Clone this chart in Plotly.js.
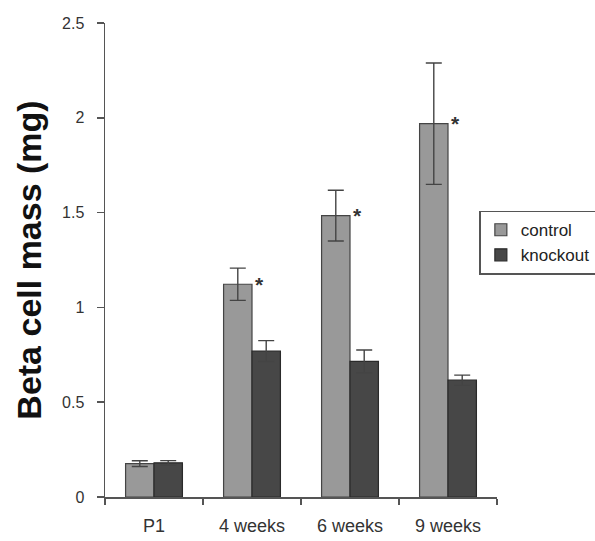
<!DOCTYPE html>
<html>
<head>
<meta charset="utf-8">
<script src="https://cdn.plot.ly/plotly-3.0.1.min.js"></script>
<style>html,body{margin:0;padding:0;background:#fff;}#chart{width:595px;height:541px;}</style>
</head>
<body>
<div id="chart"></div>
<script>
const categories = ["P1", "4 weeks", "6 weeks", "9 weeks"];
const controlValues = [0.176, 1.122, 1.484, 1.969];
const controlErrors = [0.015, 0.085, 0.134, 0.32];
const knockoutValues = [0.18, 0.77, 0.715, 0.616];
const knockoutErrors = [0.012, 0.055, 0.06, 0.027];
const significant = [false, true, true, true];
const seriesNames = ["control", "knockout"];
const yTicks = [0, 0.5, 1, 1.5, 2, 2.5];
const yTickLabels = ["0", "0.5", "1", "1.5", "2", "2.5"];

const errStyle = {type: "data", visible: true, color: "#444", thickness: 1.4, width: 8};

const traces = [
  {type: "bar", name: seriesNames[0], x: categories, y: controlValues,
   error_y: Object.assign({array: controlErrors}, errStyle),
   marker: {color: "#999999", line: {color: "#444", width: 1.2}}},
  {type: "bar", name: seriesNames[1], x: categories, y: knockoutValues,
   error_y: Object.assign({array: knockoutErrors}, errStyle),
   marker: {color: "#474747", line: {color: "#2a2a2a", width: 1.2}}}
];

const annotations = [];
categories.forEach((c, i) => {
  if (significant[i]) {
    annotations.push({x: c, y: controlValues[i], xref: "x", yref: "y", text: "<b>*</b>",
      showarrow: false, xshift: 7, yshift: 0, xanchor: "center", yanchor: "middle",
      font: {family: "Arial, Liberation Sans", size: 21, color: "#333"}});
  }
});

const layout = {
  width: 595, height: 541,
  margin: {l: 105, r: 98, t: 22.5, b: 44, autoexpand: false},
  paper_bgcolor: "#fff", plot_bgcolor: "#fff",
  barmode: "group", bargap: 0.42, bargroupgap: 0,
  font: {family: "Arial, Liberation Sans, sans-serif", size: 16, color: "#333"},
  xaxis: {type: "category", showline: true, linecolor: "#555", linewidth: 1.5,
    ticks: "outside", tickson: "boundaries", ticklen: 6, tickcolor: "#555", tickwidth: 1.5,
    ticklabelstandoff: 12, showgrid: false, zeroline: false,
    tickfont: {size: 18, color: "#333"}},
  yaxis: {range: [0, 2.5], tickvals: yTicks, ticktext: yTickLabels,
    showline: true, linecolor: "#555", linewidth: 1.5, ticks: "outside", ticklen: 7,
    tickcolor: "#555", tickwidth: 1.5, showgrid: false, zeroline: false,
    ticklabelstandoff: 9, tickfont: {size: 16, color: "#333"},
    title: {text: "Beta cell mass (mg)", standoff: 10,
      font: {family: "Arial, Liberation Sans, sans-serif", size: 34, color: "#111", weight: "bold"}}},
  showlegend: true,
  legend: {x: 0.955, xanchor: "left", y: 0.604, yanchor: "top", xref: "paper",
    bgcolor: "#fff", bordercolor: "#555", borderwidth: 1.5,
    font: {size: 17, color: "#222"}, itemwidth: 30},
  annotations: annotations
};

Plotly.newPlot("chart", traces, layout, {displayModeBar: false, staticPlot: true});
</script>
</body>
</html>
